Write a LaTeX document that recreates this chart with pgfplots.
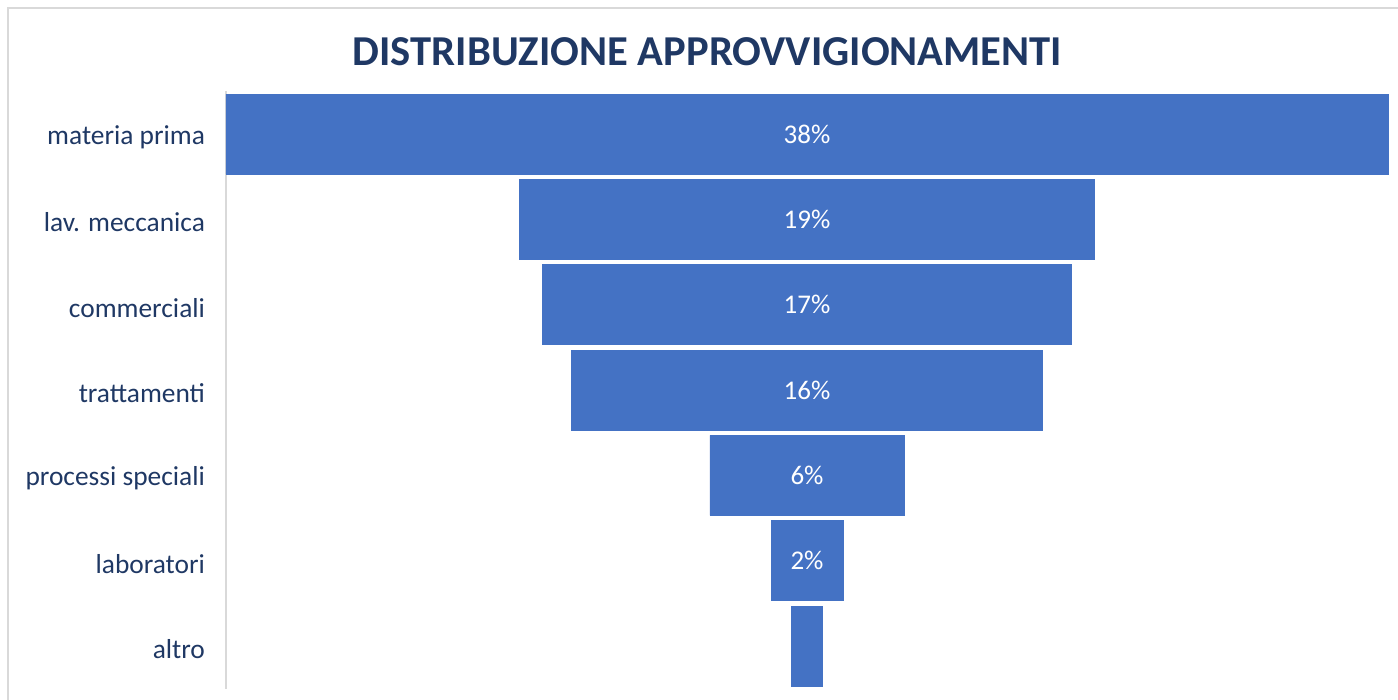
\documentclass[border=0pt]{standalone}
\usepackage{pgfplots}
\usepackage{pgfplotstable}
\pgfplotsset{compat=1.18}
\usepackage{fontspec}
\setmainfont{Carlito}
\definecolor{barblue}{HTML}{4472C4}
\definecolor{navy}{HTML}{1F3864}
\definecolor{lgray}{HTML}{D9D9D9}
\pgfplotstableread{
idx v
0 38.0
1 18.8
2 17.3
3 15.4
4 6.35
5 2.35
6 1.0
}\funneldata
\begin{document}
\begin{tikzpicture}
\useasboundingbox (0,0) rectangle (699pt,350pt);
\draw[lgray, line width=1pt] (4pt,0) -- (4pt,346pt) -- (700pt,346pt);
\node[font=\fontsize{21.3}{24}\selectfont\bfseries, text=navy] at (353.75pt,324pt) {DISTRIBUZIONE APPROVVIGIONAMENTI};
\begin{axis}[
  at={(113pt,5.65pt)}, anchor=south west,
  scale only axis, width=581pt, height=298.65pt,
  xmin=-19, xmax=19, ymin=-0.5, ymax=6.5,
  y dir=reverse,
  axis x line=none,
  axis y line*=left,
  y axis line style={lgray, line width=0.8pt, -},
  ytick={0,...,6},
  yticklabels={materia prima, lav. meccanica, commerciali, trattamenti, processi speciali, laboratori, altro},
  major tick length=0pt,
  yticklabel style={font=\fontsize{13.7}{16}\selectfont, text=navy, xshift=-7pt, yshift=-1.5pt},
  clip=false,
]
\addplot[xbar, bar width=40pt, bar shift=0pt, fill=barblue, draw=barblue, line width=0.3pt]
  table[x expr=\thisrow{v}/2, y=idx] {\funneldata};
\addplot[xbar, bar width=40pt, bar shift=0pt, fill=barblue, draw=barblue, line width=0.3pt]
  table[x expr=-\thisrow{v}/2, y=idx] {\funneldata};
\addplot[only marks, mark=none, nodes near coords, point meta=explicit symbolic,
  nodes near coords style={text=white, anchor=center, font=\fontsize{13.5}{16}\selectfont}]
  coordinates {(0,0) [38\%] (0,1) [19\%] (0,2) [17\%] (0,3) [16\%] (0,4) [6\%] (0,5) [2\%]};
\end{axis}
\end{tikzpicture}
\end{document}
